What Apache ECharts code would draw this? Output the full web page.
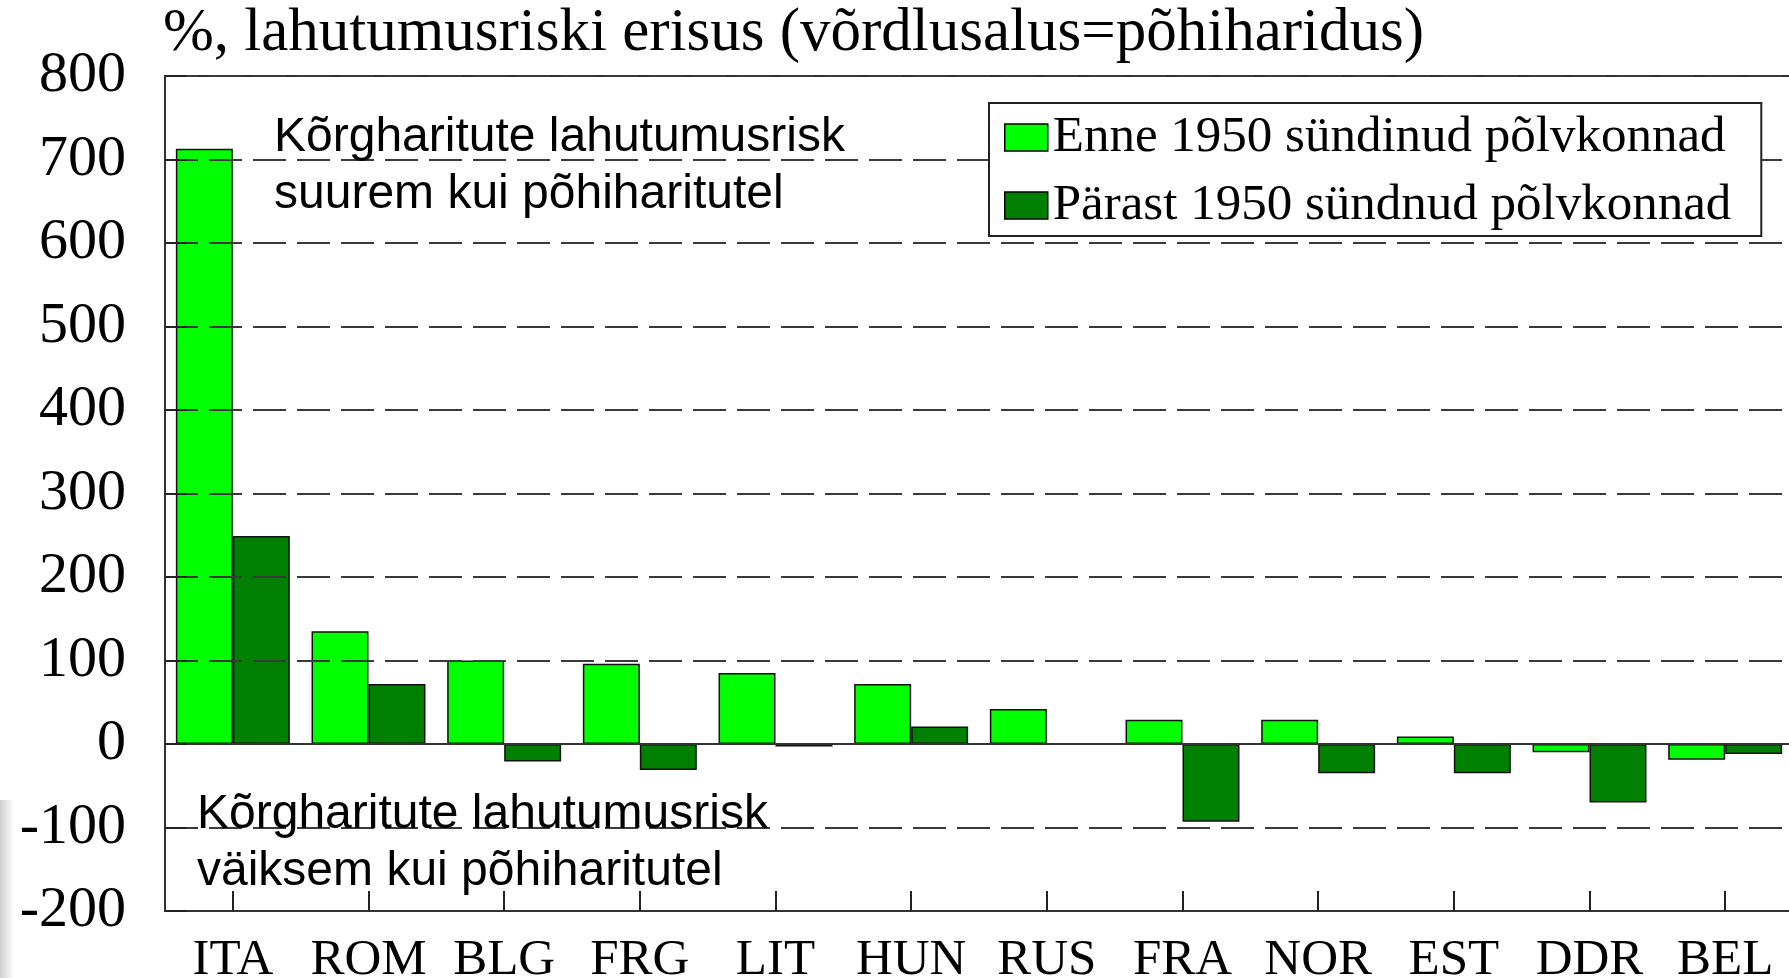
<!DOCTYPE html>
<html>
<head>
<meta charset="utf-8">
<script src="https://cdn.jsdelivr.net/npm/echarts@6/dist/echarts.min.js"></script>
<style>
  html, body { margin: 0; padding: 0; background: #fff; }
  #chart { width: 1789px; height: 978px; }
</style>
</head>
<body>
<div id="chart"></div>
<script>
// riigid
const categories = ['ITA', 'ROM', 'BLG', 'FRG', 'LIT', 'HUN', 'RUS', 'FRA', 'NOR', 'EST', 'DDR', 'BEL']
// Enne 1950 sündinud põlvkonnad
const enne1950 = [713, 135, 100, 96, 85, 72, 42, 29, 29, 9, -10, -19]
// Pärast 1950 sündnud põlvkonnad
const parast1950 = [249, 72, -21, -31, -3, 21, null, -93, -35, -35, -70, -12]
const seriesNames = ['Enne 1950 sündinud põlvkonnad', 'Pärast 1950 sündnud põlvkonnad']
const yMin = -200
const yMax = 800
const yStep = 100

const titleText = '%, lahutumusriski erisus (võrdlusalus=põhiharidus)'
const noteUp = ['Kõrgharitute lahutumusrisk', 'suurem kui põhiharitutel']
const noteDown = ['Kõrgharitute lahutumusrisk', 'väiksem kui põhiharitutel']

const serif = 'Liberation Serif'
const sans = 'Liberation Sans'

let chart = echarts.init(document.getElementById('chart'), null, { renderer: 'canvas' })

function noteText(lines, x, y) {
    return {
        type: 'text',
        left: x,
        top: y,
        z: 10,
        style: {
            text: lines.join('\n'),
            font: '48px "' + sans + '"',
            lineHeight: 57,
            fill: '#000'
        }
    }
}

let option = {
    animation: false,
    backgroundColor: '#fff',
    title: {
        text: titleText,
        left: 163,
        top: 3,
        padding: 0,
        textStyle: {
            fontFamily: serif,
            fontSize: 61,
            fontWeight: 'normal',
            color: '#000'
        }
    },
    legend: {
        orient: 'vertical',
        left: 989,
        top: 103,
        padding: [9, 30, 5, 15],
        itemGap: 17,
        itemWidth: 43,
        itemHeight: 27,
        icon: 'rect',
        backgroundColor: '#fff',
        borderColor: '#222',
        borderWidth: 2,
        itemStyle: { borderColor: '#000', borderWidth: 1.5 },
        textStyle: {
            fontFamily: serif,
            fontSize: 51,
            lineHeight: 50,
            color: '#000'
        },
        z: 20
    },
    grid: {
        left: 165,
        top: 76,
        width: 1628,
        height: 835,
        show: true,
        borderColor: '#333',
        borderWidth: 2,
        containLabel: false,
        outerBoundsMode: 'none'
    },
    xAxis: {
        type: 'category',
        data: categories,
        axisLine: { onZero: false, lineStyle: { color: '#333', width: 2 } },
        axisTick: { show: true, inside: true, alignWithLabel: true, length: 20, lineStyle: { color: '#222', width: 2 } },
        axisLabel: {
            interval: 0,
            margin: 24,
            fontFamily: serif,
            fontSize: 51,
            color: '#000'
        },
        splitLine: { show: false },
        z: 5
    },
    yAxis: {
        type: 'value',
        min: yMin,
        max: yMax,
        interval: yStep,
        axisLine: { show: true, lineStyle: { color: '#333', width: 2 } },
        axisTick: { show: true, inside: true, length: 22, lineStyle: { color: '#222', width: 2 } },
        axisLabel: {
            margin: 39,
            fontFamily: serif,
            fontSize: 58,
            color: '#000'
        },
        splitLine: {
            show: true,
            lineStyle: { color: '#3a3a3a', width: 2, type: [33, 11] }
        },
        z: 5
    },
    series: [
        {
            name: seriesNames[0],
            type: 'bar',
            data: enne1950,
            barWidth: '42%',
            barGap: '0%',
            itemStyle: { color: '#00ff00', borderColor: '#111', borderWidth: 1.5 },
            markLine: {
                silent: true,
                symbol: ['none', 'none'],
                label: { show: false },
                lineStyle: { type: 'solid', color: '#333', width: 2 },
                data: [{ yAxis: 0 }]
            }
        },
        {
            name: seriesNames[1],
            type: 'bar',
            data: parast1950,
            barWidth: '42%',
            barGap: '0%',
            itemStyle: { color: '#008000', borderColor: '#111', borderWidth: 1.5 }
        }
    ],
    graphic: [
        noteText(noteUp, 274, 109),
        noteText(noteDown, 197, 786),
        {
            type: 'rect',
            left: 0,
            top: 800,
            shape: { width: 14, height: 178 },
            style: {
                fill: new echarts.graphic.LinearGradient(0, 0, 1, 0, [
                    { offset: 0, color: '#cfcfcf' },
                    { offset: 1, color: '#ffffff' }
                ])
            },
            z: -1
        }
    ]
}

chart.setOption(option)
</script>
</body>
</html>
